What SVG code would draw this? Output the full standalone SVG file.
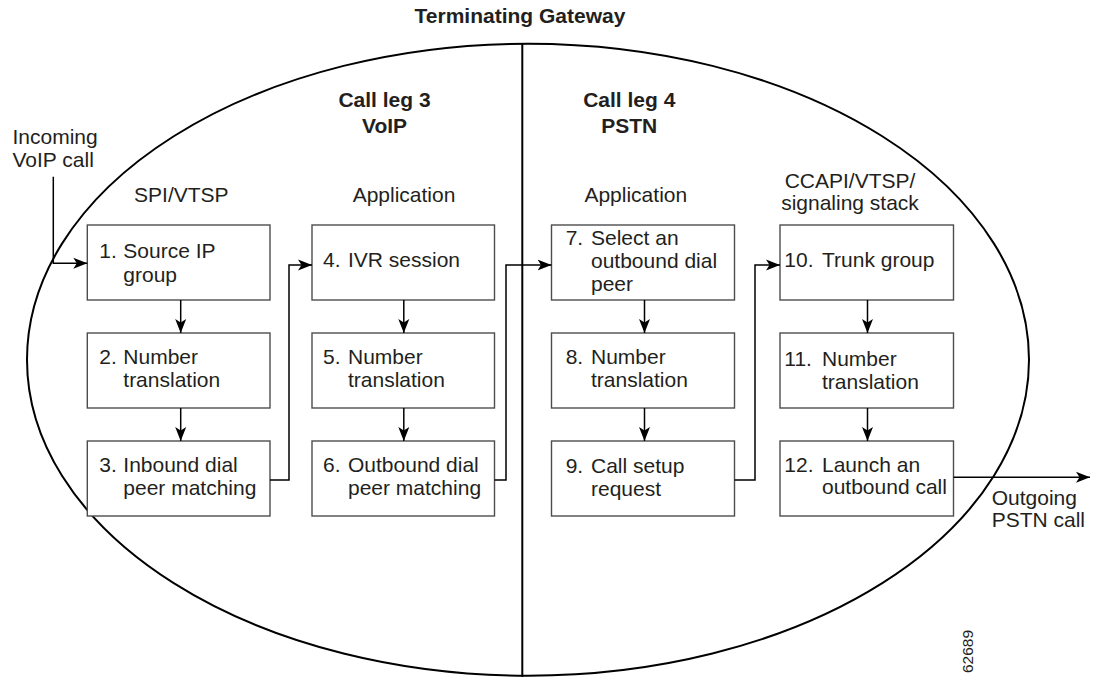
<svg xmlns="http://www.w3.org/2000/svg" width="1096" height="677" viewBox="0 0 1096 677">
<style>
text{font-family:"Liberation Sans",Arial,Helvetica,sans-serif;font-size:21px;fill:#231f20}
.b{font-weight:bold}
.m{text-anchor:middle}
.box{fill:#fff;stroke:#4d4d4d;stroke-width:1.4}
.c{fill:none;stroke:#000;stroke-width:1.5}
.frame{fill:none;stroke:#000;stroke-width:2}
</style>
<defs>
<marker id="ah" markerUnits="userSpaceOnUse" markerWidth="16" markerHeight="12" refX="14" refY="6" orient="auto" viewBox="0 0 16 12">
<path d="M0,0.5 L14,6 L0,11.5 L3.5,6 z" fill="#000"/>
</marker>
</defs>
<rect width="1096" height="677" fill="#fff"/>
<g id="frame">
<ellipse class="frame" cx="528" cy="359.7" rx="501" ry="316"/>
<line class="frame" x1="522.3" y1="43" x2="522.3" y2="677"/>
</g>
<g id="labels">
<text class="b m" x="520" y="23">Terminating Gateway</text>
<text class="b m" x="384.5" y="107">Call leg 3</text>
<text class="b m" x="384.5" y="132.5">VoIP</text>
<text class="b m" x="629.3" y="107">Call leg 4</text>
<text class="b m" x="629.3" y="132.5">PSTN</text>
<text class="m" x="181.3" y="201.7">SPI/VTSP</text>
<text class="m" x="404" y="201.7">Application</text>
<text class="m" x="635.8" y="201.7">Application</text>
<text class="m" x="850" y="188.3">CCAPI/VTSP/</text>
<text class="m" x="850" y="210">signaling stack</text>
<text x="12.5" y="144.3">Incoming</text>
<text x="12.5" y="166.7">VoIP call</text>
<text x="991.7" y="505">Outgoing</text>
<text x="991.7" y="527">PSTN call</text>
<text class="m" style="font-size:15.5px" transform="translate(973.3,651.5) rotate(-90)">62689</text>
</g>
<g id="n1"><rect class="box" x="87.3" y="225" width="182.7" height="75"/><text y="258"><tspan x="99.3">1.</tspan><tspan x="123.3">Source IP</tspan></text><text x="123.3" y="281.5">group</text></g>
<g id="n2"><rect class="box" x="87.3" y="333" width="182.7" height="75"/><text y="364"><tspan x="99.3">2.</tspan><tspan x="123.3">Number</tspan></text><text x="123.3" y="387.3">translation</text></g>
<g id="n3"><rect class="box" x="87.3" y="441" width="182.7" height="75"/><text y="472"><tspan x="99.3">3.</tspan><tspan x="123.3">Inbound dial</tspan></text><text x="123.3" y="495.3">peer matching</text></g>
<g id="n4"><rect class="box" x="312" y="225" width="182.5" height="75"/><text y="266.7"><tspan x="323">4.</tspan><tspan x="348">IVR session</tspan></text></g>
<g id="n5"><rect class="box" x="312" y="333" width="182.5" height="75"/><text y="364"><tspan x="323">5.</tspan><tspan x="348">Number</tspan></text><text x="348" y="387.3">translation</text></g>
<g id="n6"><rect class="box" x="312" y="441" width="182.5" height="75"/><text y="472"><tspan x="323">6.</tspan><tspan x="348">Outbound dial</tspan></text><text x="348" y="495.3">peer matching</text></g>
<g id="n7"><rect class="box" x="551.5" y="225" width="183" height="75"/><text y="244.5"><tspan x="565.7">7.</tspan><tspan x="591">Select an</tspan></text><text x="591" y="267.5">outbound dial</text><text x="591" y="290.5">peer</text></g>
<g id="n8"><rect class="box" x="551.5" y="333" width="183" height="75"/><text y="364"><tspan x="565.7">8.</tspan><tspan x="591">Number</tspan></text><text x="591" y="387.3">translation</text></g>
<g id="n9"><rect class="box" x="551.5" y="441" width="183" height="75"/><text y="473"><tspan x="565.7">9.</tspan><tspan x="591">Call setup</tspan></text><text x="591" y="496">request</text></g>
<g id="n10"><rect class="box" x="780" y="225" width="173.5" height="75"/><text y="266.7"><tspan x="784.3">10.</tspan><tspan x="822">Trunk group</tspan></text></g>
<g id="n11"><rect class="box" x="780" y="333" width="173.5" height="75"/><text y="366"><tspan x="784.3">11.</tspan><tspan x="822">Number</tspan></text><text x="822" y="389.3">translation</text></g>
<g id="n12"><rect class="box" x="780" y="441" width="173.5" height="75"/><text y="471.5"><tspan x="784.3">12.</tspan><tspan x="822">Launch an</tspan></text><text x="822" y="494">outbound call</text></g>
<g id="connectors">
<polyline class="c" points="53.3,176.7 53.3,263.3 87.3,263.3" marker-end="url(#ah)"/>
<line class="c" x1="180.7" y1="300" x2="180.7" y2="333" marker-end="url(#ah)"/>
<line class="c" x1="180.7" y1="408" x2="180.7" y2="441" marker-end="url(#ah)"/>
<polyline class="c" points="270,480 289,480 289,265 312,265" marker-end="url(#ah)"/>
<line class="c" x1="403.8" y1="300" x2="403.8" y2="333" marker-end="url(#ah)"/>
<line class="c" x1="403.8" y1="408" x2="403.8" y2="441" marker-end="url(#ah)"/>
<polyline class="c" points="494.5,480 506,480 506,265 551.5,265" marker-end="url(#ah)"/>
<line class="c" x1="644.5" y1="300" x2="644.5" y2="333" marker-end="url(#ah)"/>
<line class="c" x1="644.5" y1="408" x2="644.5" y2="441" marker-end="url(#ah)"/>
<polyline class="c" points="734.5,480 755,480 755,265 780,265" marker-end="url(#ah)"/>
<line class="c" x1="867.5" y1="300" x2="867.5" y2="333" marker-end="url(#ah)"/>
<line class="c" x1="867.5" y1="408" x2="867.5" y2="441" marker-end="url(#ah)"/>
<line class="c" x1="953.5" y1="477.3" x2="1090" y2="477.3" marker-end="url(#ah)"/>
</g>
</svg>
